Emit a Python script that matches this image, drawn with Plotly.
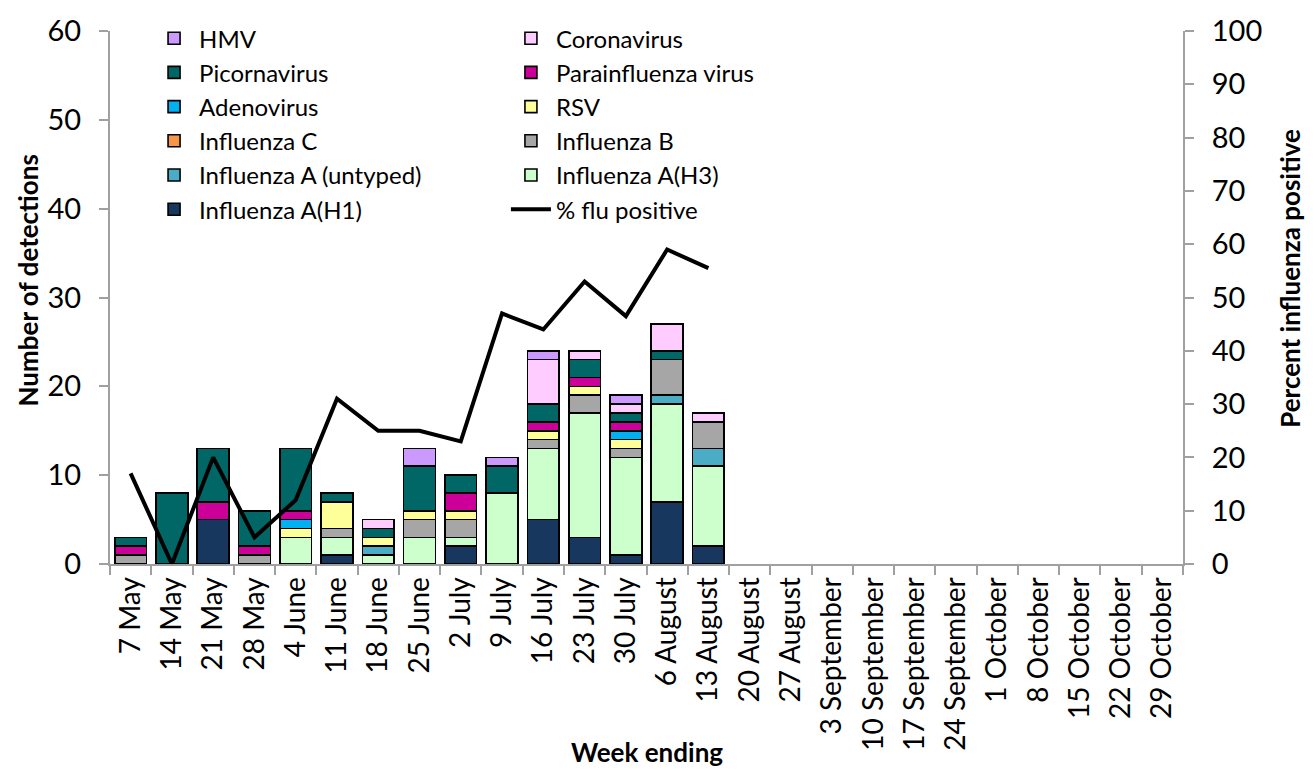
import plotly.graph_objects as go

# Week-ending dates on the category axis
weeks = ["7 May", "14 May", "21 May", "28 May", "4 June", "11 June", "18 June",
         "25 June", "2 July", "9 July", "16 July", "23 July", "30 July",
         "6 August", "13 August", "20 August", "27 August", "3 September",
         "10 September", "17 September", "24 September", "1 October",
         "8 October", "15 October", "22 October", "29 October"]

# Weekly detections by virus (reported weeks only; later weeks have no data yet)
flu_a_h1 = [0, 0, 5, 0, 0, 1, 0, 0, 2, 0, 5, 3, 1, 7, 2]
flu_a_h3 = [0, 0, 0, 0, 3, 2, 1, 3, 1, 8, 8, 14, 11, 11, 9]
flu_a_untyped = [0, 0, 0, 0, 0, 0, 1, 0, 0, 0, 0, 0, 0, 1, 2]
flu_b = [1, 0, 0, 1, 0, 1, 0, 2, 2, 0, 1, 2, 1, 4, 3]
flu_c = [0, 0, 0, 0, 0, 0, 0, 0, 0, 0, 0, 0, 0, 0, 0]
rsv = [0, 0, 0, 0, 1, 3, 1, 1, 1, 0, 1, 1, 1, 0, 0]
adenovirus = [0, 0, 0, 0, 1, 0, 0, 0, 0, 0, 0, 0, 1, 0, 0]
parainfluenza = [1, 0, 2, 1, 1, 0, 0, 0, 2, 0, 1, 1, 1, 0, 0]
picornavirus = [1, 8, 6, 4, 7, 1, 1, 5, 2, 3, 2, 2, 1, 1, 0]
coronavirus = [0, 0, 0, 0, 0, 0, 1, 0, 0, 0, 5, 1, 1, 3, 1]
hmv = [0, 0, 0, 0, 0, 0, 0, 2, 0, 1, 1, 0, 1, 0, 0]

# Percentage of samples positive for influenza
pct_flu_positive = [17, 0, 20, 5, 12, 31, 25, 25, 23, 47, 44, 53, 46.5, 59, 55.5]

# Stacking order (bottom to top): name, values, colour, legend, rank in legend
series = [
    ("Influenza A(H1)", flu_a_h1, "#17375E", "legend", 6),
    ("Influenza A(H3)", flu_a_h3, "#CCFFCC", "legend2", 5),
    ("Influenza A (untyped)", flu_a_untyped, "#4BACC6", "legend", 5),
    ("Influenza B", flu_b, "#A6A6A6", "legend2", 4),
    ("Influenza C", flu_c, "#F79646", "legend", 4),
    ("RSV", rsv, "#FFFF99", "legend2", 3),
    ("Adenovirus", adenovirus, "#00B0F0", "legend", 3),
    ("Parainfluenza virus", parainfluenza, "#CC0099", "legend2", 2),
    ("Picornavirus", picornavirus, "#006666", "legend", 2),
    ("Coronavirus", coronavirus, "#FFCCFF", "legend2", 1),
    ("HMV", hmv, "#CC99FF", "legend", 1),
]

FONT = "Lato, 'Open Sans', sans-serif"
AXIS_GREY = "#A0A0A0"


def pad(values):
    out = [v if v else None for v in values]
    return out + [None] * (len(weeks) - len(out))


fig = go.Figure()

for name, values, colour, legend, rank in series:
    fig.add_trace(go.Bar(
        x=weeks, y=pad(values), name=name,
        marker=dict(color=colour, line=dict(color="black", width=1.6)),
        legend=legend, legendrank=rank, yaxis="y",
    ))

fig.add_trace(go.Scatter(
    x=weeks[:len(pct_flu_positive)], y=pct_flu_positive, name="% flu positive",
    mode="lines", line=dict(color="black", width=4),
    yaxis="y2", legend="legend2", legendrank=6,
))

legend_style = dict(yanchor="top", xanchor="left", y=1.028,
                    font=dict(size=24), traceorder="normal",
                    bgcolor="rgba(0,0,0,0)", itemwidth=40)

fig.update_layout(
    width=1316, height=771,
    margin=dict(l=110, r=133, t=22, b=207),
    paper_bgcolor="white", plot_bgcolor="white",
    barmode="stack", bargap=0.23,
    font=dict(family=FONT, size=27, color="black"),
    showlegend=True,
    legend=dict(x=0.0364, **legend_style),
    legend2=dict(x=0.369, **legend_style),
    xaxis=dict(type="category", categoryorder="array", categoryarray=weeks,
               tickangle=-90, ticks="outside", tickson="boundaries",
               ticklen=9, tickwidth=2, tickcolor=AXIS_GREY,
               showline=True, linecolor=AXIS_GREY, linewidth=2,
               showgrid=False, tickfont=dict(size=28)),
    yaxis=dict(range=[0, 60], dtick=10, ticks="outside", ticklen=9,
               tickwidth=2, tickcolor=AXIS_GREY, showline=True,
               linecolor=AXIS_GREY, linewidth=2, showgrid=False,
               zeroline=False, tickfont=dict(size=29), ticklabelstandoff=12),
    yaxis2=dict(range=[0, 100], dtick=10, overlaying="y", side="right",
                ticks="outside", ticklen=9, tickwidth=2, tickcolor=AXIS_GREY,
                showline=True, linecolor=AXIS_GREY, linewidth=2,
                showgrid=False, zeroline=False, tickfont=dict(size=29),
                ticklabelstandoff=12),
    annotations=[
        dict(text="<b>Number of detections</b>", x=-0.0764, y=0.532,
             xref="paper", yref="paper", textangle=-90, showarrow=False,
             xanchor="center", yanchor="middle", font=dict(size=26)),
        dict(text="<b>Percent influenza positive</b>", x=1.0997, y=0.537,
             xref="paper", yref="paper", textangle=-90, showarrow=False,
             xanchor="center", yanchor="middle", font=dict(size=26)),
        dict(text="<b>Week ending</b>", x=0.5, y=-0.352,
             xref="paper", yref="paper", showarrow=False,
             xanchor="center", yanchor="middle", font=dict(size=26)),
    ],
)

fig.write_html("out.html")
